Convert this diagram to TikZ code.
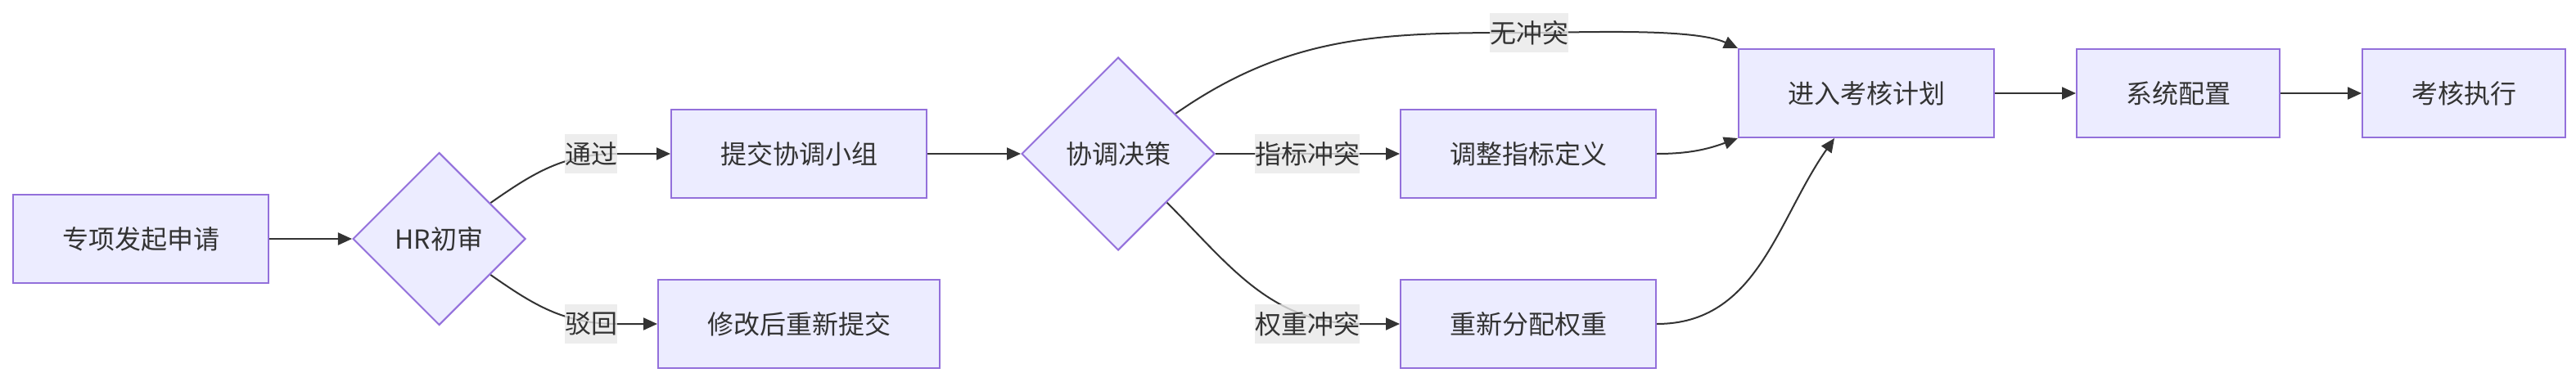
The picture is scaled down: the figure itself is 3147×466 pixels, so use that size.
\documentclass[tikz,border=0pt]{standalone}
\usepackage{fontspec}
\setmainfont{Noto Sans CJK SC}
\usepackage{tikz}
\usetikzlibrary{arrows.meta,positioning,shapes.geometric,backgrounds}
\definecolor{nodefill}{HTML}{ECECFF}
\definecolor{nodeline}{HTML}{9370DB}
\definecolor{ink}{HTML}{333333}
\definecolor{lblfill}{HTML}{E8E8E8}

\begin{document}
\begin{tikzpicture}[
  x=1pt, y=1pt, font=\fontsize{32}{38}\selectfont, text=ink,
  box/.style={draw=nodeline, line width=2pt, fill=nodefill, minimum height=108pt, inner xsep=60pt, inner ysep=0pt},
  dec/.style={draw=nodeline, line width=2pt, fill=nodefill, diamond, aspect=1, inner sep=0pt},
  lbl/.style={fill=lblfill, fill opacity=0.8, text opacity=1, inner sep=0pt, minimum height=48pt},
  pf/.style={draw=ink, line width=2pt, -{Triangle[length=17pt,width=15pt]}}
]
\useasboundingbox (0,0) rectangle (3147,-466);
\node[box] (start) at (172,-292) {专项发起申请};
\node[dec, minimum size=211pt, right=101pt of start] (hr) {HR初审};
\node[box] (submit) at (976,-188) {提交协调小组};
\node[box] (revise) at (976,-396) {修改后重新提交};
\node[dec, minimum size=236pt] (coord) at (1366,-188) {协调决策};
\node[box] (adjust) at (1867,-188) {调整指标定义};
\node[box] (realloc) at (1867,-396) {重新分配权重};
\node[box] (plan) at (2280,-114) {进入考核计划};
\node[box, right=99pt of plan] (config) {系统配置};
\node[box, right=99pt of config] (exec) {考核执行};
\node[lbl] (lpass) at (722,-188) {通过};
\node[lbl] (lreject) at (722,-396) {驳回};
\node[lbl] (lnone) at (1868,-40) {无冲突};
\node[lbl] (lind) at (1597,-188) {指标冲突};
\node[lbl] (lwt) at (1597,-396) {权重冲突};
\begin{scope}[on background layer]
\draw[pf] (start)--(hr);
\draw[pf] (hr) to[out=35,in=180] (lpass.east) -- (submit);
\draw[pf] (hr) to[out=-35,in=180] (lreject.east) -- (revise);
\draw[pf] (submit)--(coord);
\draw[pf] (coord) to[out=35,in=180] (lnone.center) to[out=0,in=155,looseness=0.6] (plan.north west);
\draw[pf] (coord)--(adjust);
\draw[pf] (coord) to[out=-45,in=180] (lwt.east) -- (realloc);
\draw[pf] (adjust) to[out=0,in=200] (plan.south west);
\draw[pf] (realloc) to[out=0,in=235] ([xshift=118pt]plan.south west);
\draw[pf] (plan)--(config); \draw[pf] (config)--(exec);
\end{scope}
\end{tikzpicture}
\end{document}
